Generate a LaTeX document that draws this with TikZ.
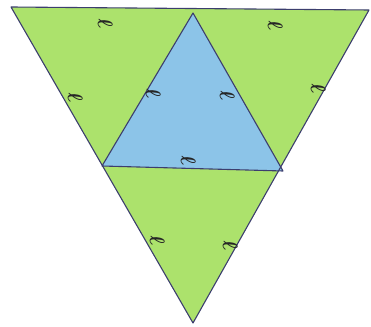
\documentclass[tikz,border=0pt]{standalone}
\usepackage{bm}
\begin{document}
\begin{tikzpicture}[x=1pt,y=1pt,
  edge/.style={draw=lineblue,line width=1.1pt,line join=round},
  lab/.style={font=\fontsize{22}{22}\selectfont,rotate=-80,inner sep=0pt,text=black!85}]
\definecolor{lineblue}{RGB}{60,62,110}
\definecolor{grn}{RGB}{172,226,108}
\definecolor{blu}{RGB}{140,196,232}
\useasboundingbox (0,0) rectangle (371,326);
\coordinate (A) at (11,319);
\coordinate (B) at (369,316);
\coordinate (C) at (193,3);
\coordinate (P) at (193,313);
\coordinate (Q) at (102,160);
\coordinate (R) at (283,155);
\fill[grn] (A) -- (B) -- (C) -- cycle;
\fill[blu] (P) -- (Q) -- (R) -- cycle;
\draw[edge] (A) -- (B) -- (C) -- cycle;
\draw[edge] (P) -- (Q) -- (R) -- cycle;
\node[lab] (l1) at (105,303) {$\bm{\ell}$};
\node[lab] (l2) at (75,229) {$\bm{\ell}$};
\node[lab] (l3) at (275,301) {$\bm{\ell}$};
\node[lab] (l4) at (318,238) {$\bm{\ell}$};
\node[lab] (l5) at (153,233) {$\bm{\ell}$};
\node[lab] (l6) at (227,231) {$\bm{\ell}$};
\node[lab] (l7) at (188,166) {$\bm{\ell}$};
\node[lab] (l8) at (157,86) {$\bm{\ell}$};
\node[lab] (l9) at (230,81) {$\bm{\ell}$};
\end{tikzpicture}
\end{document}
